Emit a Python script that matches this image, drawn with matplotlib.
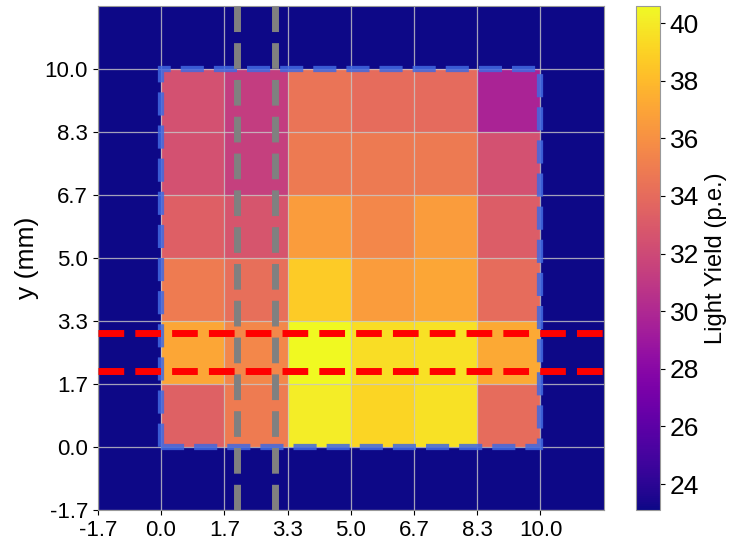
import numpy as np
import matplotlib
matplotlib.use('Agg')
import matplotlib.pyplot as plt
from matplotlib.patches import Rectangle

plt.rcParams['font.family'] = ['Liberation Sans', 'DejaVu Sans']

# Cell pitch of the scan (mm)
pitch = 10.0 / 6

# Light yield per cell (p.e.), rows from y = 0 upwards, columns from x = 0
ly_inner = [
    [33.4, 34.9, 40.1, 39.1, 39.6, 34.1],
    [37.1, 35.5, 40.6, 39.5, 39.6, 37.2],
    [34.9, 34.2, 38.7, 36.6, 37.1, 34.1],
    [33.3, 32.7, 36.6, 35.5, 36.6, 33.2],
    [32.4, 31.4, 34.8, 34.8, 34.8, 32.4],
    [32.4, 31.3, 34.5, 34.1, 34.0, 29.7],
]
ly_outside = 23.1            # value of the empty cells around the tile

fiber_x = [2.0, 3.0]         # vertical cut (mm)
fiber_y = [2.0, 3.0]         # horizontal cut (mm)

# Pad the 6x6 scan with one ring of empty cells
ly = np.full((8, 8), ly_outside)
ly[1:7, 1:7] = np.array(ly_inner)

edges = np.arange(-1, 8) * pitch
ticks = np.arange(-1, 7) * pitch

fig = plt.figure(figsize=(7.30, 5.44), dpi=100)
ax = fig.add_axes([0.134, 0.0625, 0.693, 0.927])
cax = fig.add_axes([0.871, 0.0625, 0.033, 0.927])

mesh = ax.pcolormesh(edges, edges, ly, cmap='plasma', shading='flat')

# Tile outline
ax.add_patch(Rectangle((0, 0), 10, 10, fill=False, edgecolor='royalblue',
                       linestyle='--', linewidth=4.5, alpha=0.85, zorder=3))

for x in fiber_x:
    ax.axvline(x, color='gray', linestyle='--', linewidth=5, zorder=4)
for y in fiber_y:
    ax.axhline(y, color='red', linestyle='--', linewidth=5, zorder=5)

ax.set_xlim(edges[0], edges[-1])
ax.set_ylim(edges[0], edges[-1])
ax.set_xticks(ticks)
ax.set_yticks(ticks)
ax.set_xticklabels(['%.1f' % t for t in ticks], fontsize=16)
ax.set_yticklabels(['%.1f' % t for t in ticks], fontsize=16)
ax.grid(True, color='#c8c8c8', linewidth=0.9, alpha=0.8)
ax.set_xlabel('x (mm)', fontsize=19, labelpad=6)
ax.set_ylabel('y (mm)', fontsize=19)
for s in ax.spines.values():
    s.set_edgecolor('#999999')

cb = fig.colorbar(mesh, cax=cax)
cb.set_ticks([24, 26, 28, 30, 32, 34, 36, 38, 40])
cb.ax.tick_params(labelsize=19)
cb.set_label('Light Yield (p.e.)', fontsize=17, labelpad=4)
cb.outline.set_edgecolor('#999999')

fig.savefig('out.png', dpi=100)
